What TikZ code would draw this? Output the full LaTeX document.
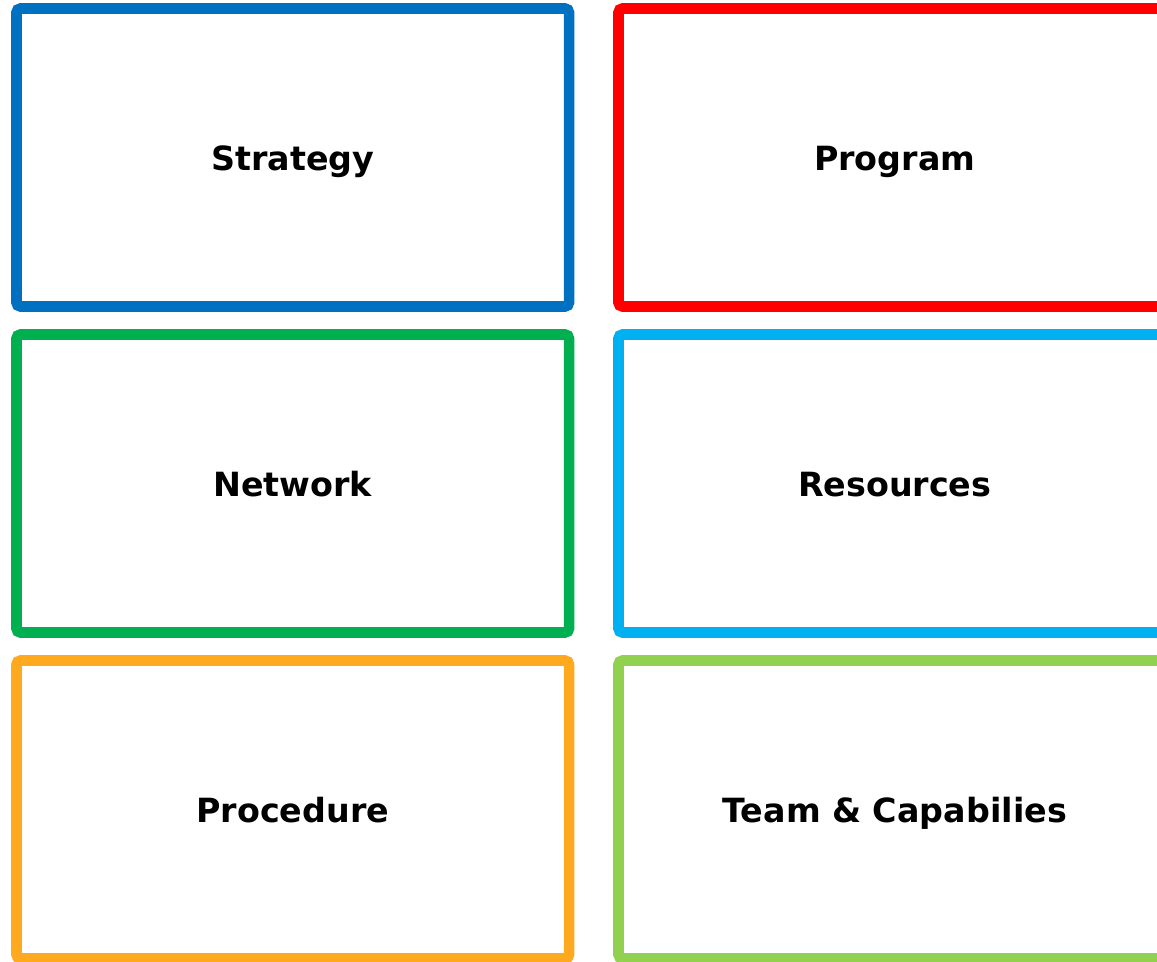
\documentclass[tikz,border=0pt]{standalone}
\usepackage{fontspec}
\setmainfont{DejaVu Sans}
\definecolor{cblue}{HTML}{0070C0}
\definecolor{cred}{HTML}{FF0000}
\definecolor{cgreen}{HTML}{00B050}
\definecolor{ccyan}{HTML}{00B0F0}
\definecolor{corange}{HTML}{FFA91F}
\definecolor{clime}{HTML}{92D050}
\begin{document}
\begin{tikzpicture}[x=0.75pt,y=-0.75pt,
  card/.style={draw=#1, line width=7.9pt, rounded corners=3pt, fill=white,
    minimum width=414.4pt, minimum height=223.5pt, inner sep=0pt,
    text height=22.5pt, text depth=3.75pt,
    font=\fontsize{25}{30}\selectfont\bfseries, text=black}]
\useasboundingbox (0,0) rectangle (1157,961);
\clip (0,0) rectangle (1157,961);
\node[card=cblue]   (strategy)  at (292.75,157.5) {Strategy};
\node[card=cred]    (program)   at (894.75,157.5) {Program};
\node[card=cgreen]  (network)   at (292.75,483.5) {Network};
\node[card=ccyan]   (resources) at (894.75,483.5) {Resources};
\node[card=corange] (procedure) at (292.75,809.5) {Procedure};
\node[card=clime]   (team)      at (894.75,809.5) {Team \& Capabilies};
\end{tikzpicture}
\end{document}
